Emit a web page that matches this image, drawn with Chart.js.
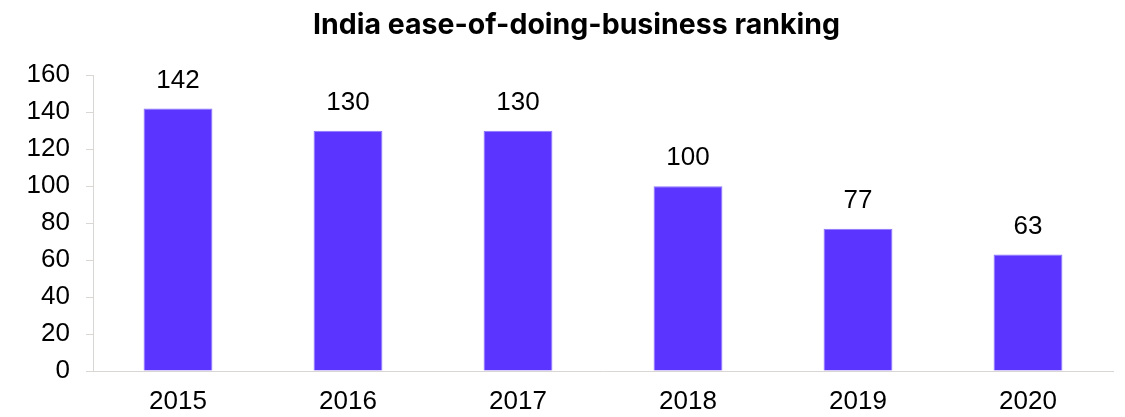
<!DOCTYPE html>
<html>
<head>
<meta charset="utf-8">
<script src="https://cdn.jsdelivr.net/npm/chart.js@4.4.1/dist/chart.umd.min.js"></script>
<style>
  html, body { margin: 0; padding: 0; background: #ffffff; }
  #wrap { width: 1125px; height: 417px; position: relative; }
</style>
</head>
<body>
<div id="wrap"><canvas id="chart" width="1125" height="417"></canvas></div>
<script>
const years = ['2015', '2016', '2017', '2018', '2019', '2020'];
const ranking = [142, 130, 130, 100, 77, 63];
const yTicks = [0, 20, 40, 60, 80, 100, 120, 140, 160];

const labelFont = '"Liberation Sans", Arial, sans-serif';

// Writes each bar's value just above its top edge
const valueLabels = {
  id: 'valueLabels',
  afterDatasetsDraw(chart) {
    const ctx = chart.ctx;
    const meta = chart.getDatasetMeta(0);
    ctx.save();
    ctx.font = '26px ' + labelFont;
    ctx.fillStyle = '#000000';
    ctx.textAlign = 'center';
    ctx.textBaseline = 'middle';
    meta.data.forEach((bar, i) => {
      ctx.fillText(String(ranking[i]), bar.x, bar.y - 28);
    });
    ctx.restore();
  }
};

// Centres the title between the tick labels' edge and the plot's right edge
const titleOffset = {
  id: 'titleOffset',
  afterLayout(chart) {
    if (chart.titleBlock) chart.titleBlock.left = 40;
  }
};

new Chart(document.getElementById('chart'), {
  type: 'bar',
  data: {
    labels: years,
    datasets: [{
      data: ranking,
      backgroundColor: '#5b34ff',
      borderColor: '#8a74ff',
      borderWidth: 1,
      categoryPercentage: 1,
      barPercentage: 0.405
    }]
  },
  options: {
    responsive: false,
    animation: false,
    layout: { padding: { left: 0, right: 12, top: 0, bottom: 0 } },
    plugins: {
      legend: { display: false },
      tooltip: { enabled: false },
      title: {
        display: true,
        text: 'India ease-of-doing-business ranking',
        color: '#000000',
        font: { family: 'Inter, "DejaVu Sans", sans-serif', size: 28.5, weight: '700' },
        padding: { top: 8, bottom: 33 }
      }
    },
    scales: {
      x: {
        grid: { display: true, drawOnChartArea: false, drawTicks: false },
        border: { display: true, color: '#d9d6d3', width: 1 },
        afterFit(scale) { scale.height = 46; },
        ticks: {
          color: '#000000',
          padding: 15,
          font: { family: labelFont, size: 26 }
        }
      },
      y: {
        min: 0,
        max: 160,
        afterBuildTicks(scale) { scale.ticks = yTicks.map(v => ({ value: v })); },
        afterFit(scale) { scale.width = 93; },
        grid: { display: true, drawOnChartArea: false, drawTicks: true, tickLength: 7, color: '#d9d6d3' },
        border: { display: true, color: '#d9d6d3', width: 1 },
        ticks: {
          color: '#000000',
          padding: 16,
          font: { family: labelFont, size: 26 }
        }
      }
    }
  },
  plugins: [valueLabels, titleOffset]
});
</script>
</body>
</html>
